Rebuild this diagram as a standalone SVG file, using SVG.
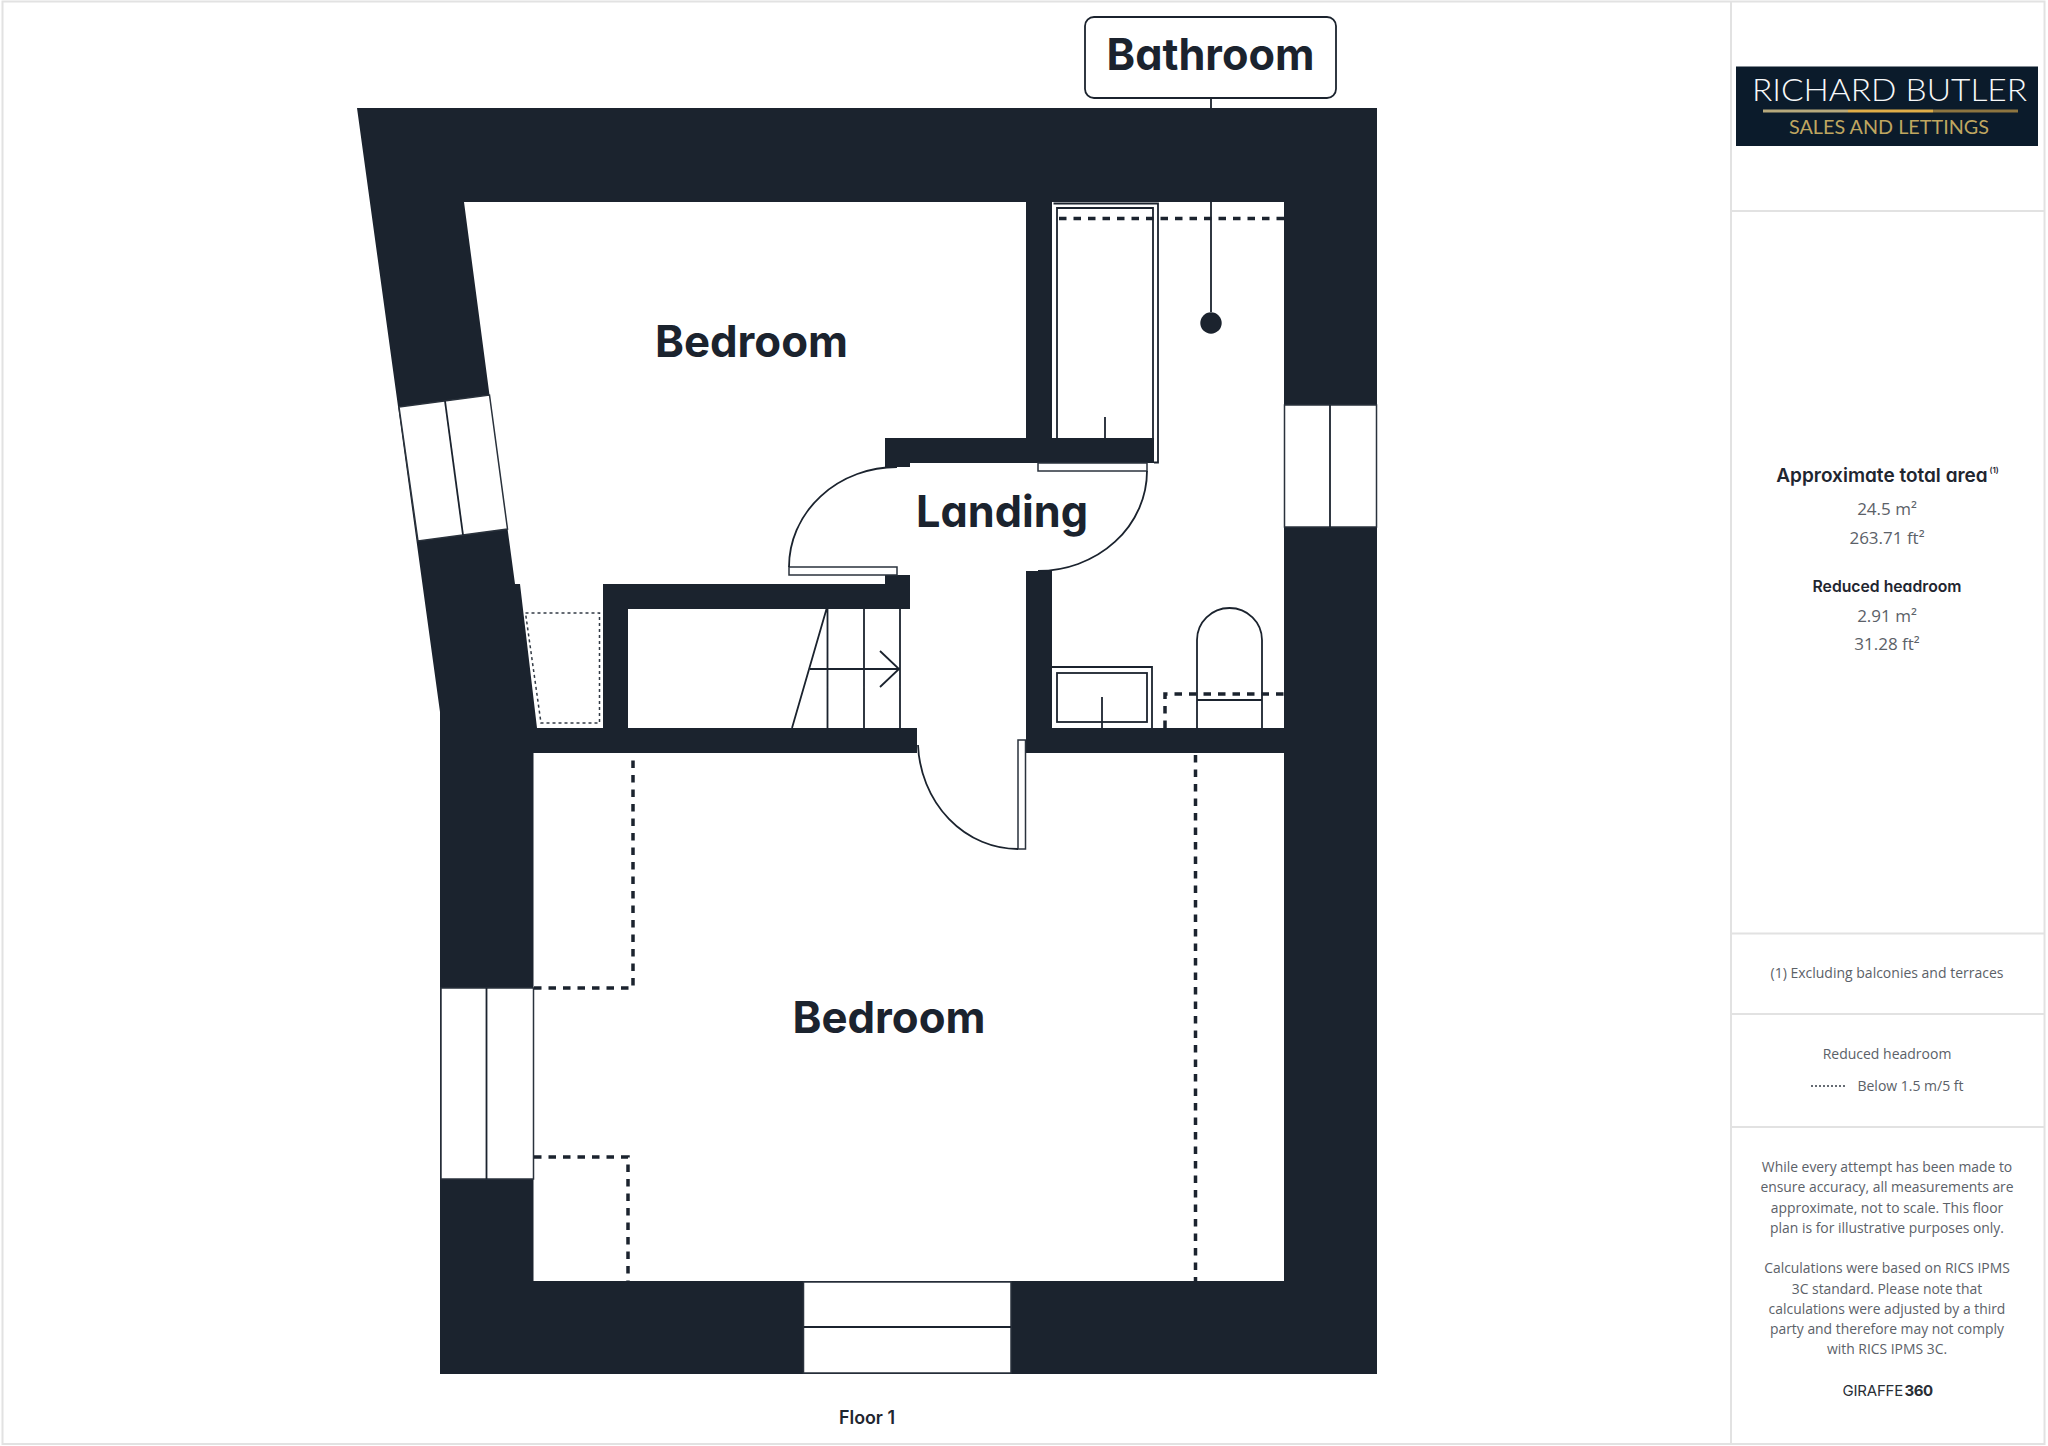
<svg xmlns="http://www.w3.org/2000/svg" width="2048" height="1446" viewBox="0 0 2048 1446">
<style>
.f{fill:#1b232e}
.ln{fill:none;stroke:#1b232e;stroke-width:1.8}
.win{fill:#fff;stroke:#2a323c;stroke-width:1.5}
.dash{fill:none;stroke:#1b232e;stroke-width:3.5;stroke-dasharray:7.5 7}
.dot{fill:none;stroke:#333b45;stroke-width:1.5;stroke-dasharray:3 3}
.rule{fill:none;stroke:#e2e2e2;stroke-width:2}
.room{font-family:Inter,"Liberation Sans",sans-serif;font-weight:700;font-size:44px;fill:#1b232e;text-anchor:middle;font-feature-settings:"cv11"}
.h{font-family:Inter,"Liberation Sans",sans-serif;font-weight:600;fill:#1f2630;text-anchor:middle;font-feature-settings:"cv11"}
.b{font-family:"Open Sans","Liberation Sans",sans-serif;fill:#5b6168;text-anchor:middle}
.g{font-family:Inter,"Liberation Sans",sans-serif;font-size:15px;fill:#2a2f36}
</style>
<rect width="2048" height="1446" fill="#fff"/>
<g id="frame">
<rect class="rule" x="2.5" y="1.5" width="2042" height="1442.5"/>
<path class="rule" d="M1731 1.500V1444M1731 211H2044M1731 933.500H2044M1731 1014H2044M1731 1127H2044"/>
</g>
<g id="walls">
<path class="f" fill-rule="evenodd" d="M357 108H1377V1374H440V712ZM464 202H1026V438H885V467H910V463H1154V438H1052V202H1284V728H1052V571H1026V753H1284V1281H533.500V753H917V728H628V609H910V575H885V584H603V728H537L520 584H515L489.500 395Z"/>
</g>
<g id="windows">
<path class="win" d="M399 407L489.500 395L507.500 529L418 541Z"/>
<path class="ln" d="M445 401L463 535"/>
<rect class="win" x="1284.500" y="405" width="92" height="122"/>
<path class="ln" d="M1330 405V527"/>
<rect class="win" x="441" y="988" width="92.500" height="191"/>
<path class="ln" d="M486.500 988V1179"/>
<rect class="win" x="803.500" y="1282" width="207.500" height="91"/>
<path class="ln" d="M803.500 1327H1011"/>
</g>
<g id="reduced-headroom">
<path class="dash" d="M1059 218.500H1284"/>
<path class="dash" d="M1165 728V694H1284"/>
<path class="dash" d="M534 988H633V755"/>
<path class="dash" d="M534 1157H628V1281"/>
<path class="dash" d="M1195.500 755V1281"/>
<path class="dot" d="M525.500 613H599.500V723H541Z"/>
</g>
<g id="bathroom-fixtures">
<path class="ln" d="M1053.500 203.500H1158V462.500H1154"/>
<path class="ln" d="M1057 438V208H1153V438"/>
<path class="ln" d="M1105 417V438"/>
<path class="ln" d="M1052 667H1152V728"/>
<rect class="ln" x="1057" y="673" width="90" height="49" stroke-width="2.500"/>
<path class="ln" d="M1102 697V728"/>
<path class="ln" d="M1197 728V640A32.500 32 0 0 1 1262 640V728M1197 700H1262"/>
</g>
<g id="doors">
<rect class="win" x="789" y="567" width="108" height="8"/>
<path class="ln" d="M789 567A108 100 0 0 1 897 467"/>
<rect class="win" x="1038" y="463" width="109" height="8"/>
<path class="ln" d="M1147 471A109 100 0 0 1 1038 571"/>
<rect class="win" x="1018" y="740" width="7.500" height="109"/>
<path class="ln" d="M1018 849A100 109 0 0 1 918 745"/>
</g>
<g id="stairs">
<path class="ln" d="M827.500 609V728M864 609V728M900 609V728M826.500 609L792 728M810 669H899M880 651L899 669L880 687"/>
</g>
<g id="connectors">
<path class="ln" d="M1211 98V108M1211 202V312"/>
<circle class="f" cx="1211" cy="323" r="10.700"/>
</g>
<g id="label-bathroom">
<rect x="1085" y="17" width="251" height="81" rx="9" fill="#fff" stroke="#1b232e" stroke-width="1.800"/>
<text class="room" x="1210.500" y="70" textLength="208" lengthAdjust="spacingAndGlyphs">Bathroom</text>
</g>
<g id="room-labels">
<text class="room" x="751.500" y="357" textLength="193" lengthAdjust="spacingAndGlyphs">Bedroom</text>
<text class="room" x="1002" y="527" textLength="172" lengthAdjust="spacingAndGlyphs">Landing</text>
<text class="room" x="889" y="1033" textLength="193" lengthAdjust="spacingAndGlyphs">Bedroom</text>
<text class="h" x="867" y="1424" font-size="18" textLength="56" lengthAdjust="spacingAndGlyphs">Floor 1</text>
</g>
<g id="logo">
<rect x="1736" y="66.500" width="302" height="79.500" fill="#0b1b2b"/>
<text x="1752" y="101" font-family="Lato,'Liberation Sans',sans-serif" font-weight="300" font-size="31" fill="#f7f8f9" textLength="275" lengthAdjust="spacingAndGlyphs">RICHARD BUTLER</text>
<rect x="1763" y="109.500" width="85" height="3" fill="#b7a97c"/>
<rect x="1848" y="109.500" width="85" height="3" fill="#e0ae48"/>
<rect x="1933" y="109.500" width="85" height="3" fill="#8d7540"/>
<text x="1789" y="134" font-family="Lato,'Liberation Sans',sans-serif" font-weight="400" font-size="18.500" fill="#bfa660" textLength="200" lengthAdjust="spacingAndGlyphs">SALES AND LETTINGS</text>
</g>
<g id="areas">
<text class="h" x="1882" y="482" font-size="19">Approximate total area</text>
<text x="1989.500" y="473" font-family="Inter,'Liberation Sans',sans-serif" font-weight="600" font-size="8" fill="#1f2630">(1)</text>
<text class="b" x="1887" y="515" font-size="17">24.5 m²</text>
<text class="b" x="1887" y="544" font-size="17">263.71 ft²</text>
<text class="h" x="1887" y="591.500" font-size="16" textLength="149" lengthAdjust="spacingAndGlyphs">Reduced headroom</text>
<text class="b" x="1887" y="621.500" font-size="17">2.91 m²</text>
<text class="b" x="1887" y="650" font-size="17">31.28 ft²</text>
</g>
<g id="notes">
<text class="b" x="1887" y="978" font-size="14">(1) Excluding balconies and terraces</text>
<text class="b" x="1887" y="1059" font-size="14">Reduced headroom</text>
<path d="M1811 1086H1847" fill="none" stroke="#333b45" stroke-width="1.500" stroke-dasharray="2 2"/>
<text class="b" x="1910.500" y="1091" font-size="14">Below 1.5 m/5 ft</text>
<text class="b" x="1887" y="1172" font-size="13.900">While every attempt has been made to</text>
<text class="b" x="1887" y="1192" font-size="13.900">ensure accuracy, all measurements are</text>
<text class="b" x="1887" y="1212.500" font-size="13.900">approximate, not to scale. This floor</text>
<text class="b" x="1887" y="1233" font-size="13.900">plan is for illustrative purposes only.</text>
<text class="b" x="1887" y="1273" font-size="13.900">Calculations were based on RICS IPMS</text>
<text class="b" x="1887" y="1293.500" font-size="13.900">3C standard. Please note that</text>
<text class="b" x="1887" y="1314" font-size="13.900">calculations were adjusted by a third</text>
<text class="b" x="1887" y="1334" font-size="13.900">party and therefore may not comply</text>
<text class="b" x="1887" y="1354" font-size="13.900">with RICS IPMS 3C.</text>
<text class="g" x="1842.500" y="1396" letter-spacing="-0.200">GIRAFFE</text>
<text class="g" x="1904.500" y="1396" font-weight="700" letter-spacing="-0.500">360</text>
</g>
</svg>
